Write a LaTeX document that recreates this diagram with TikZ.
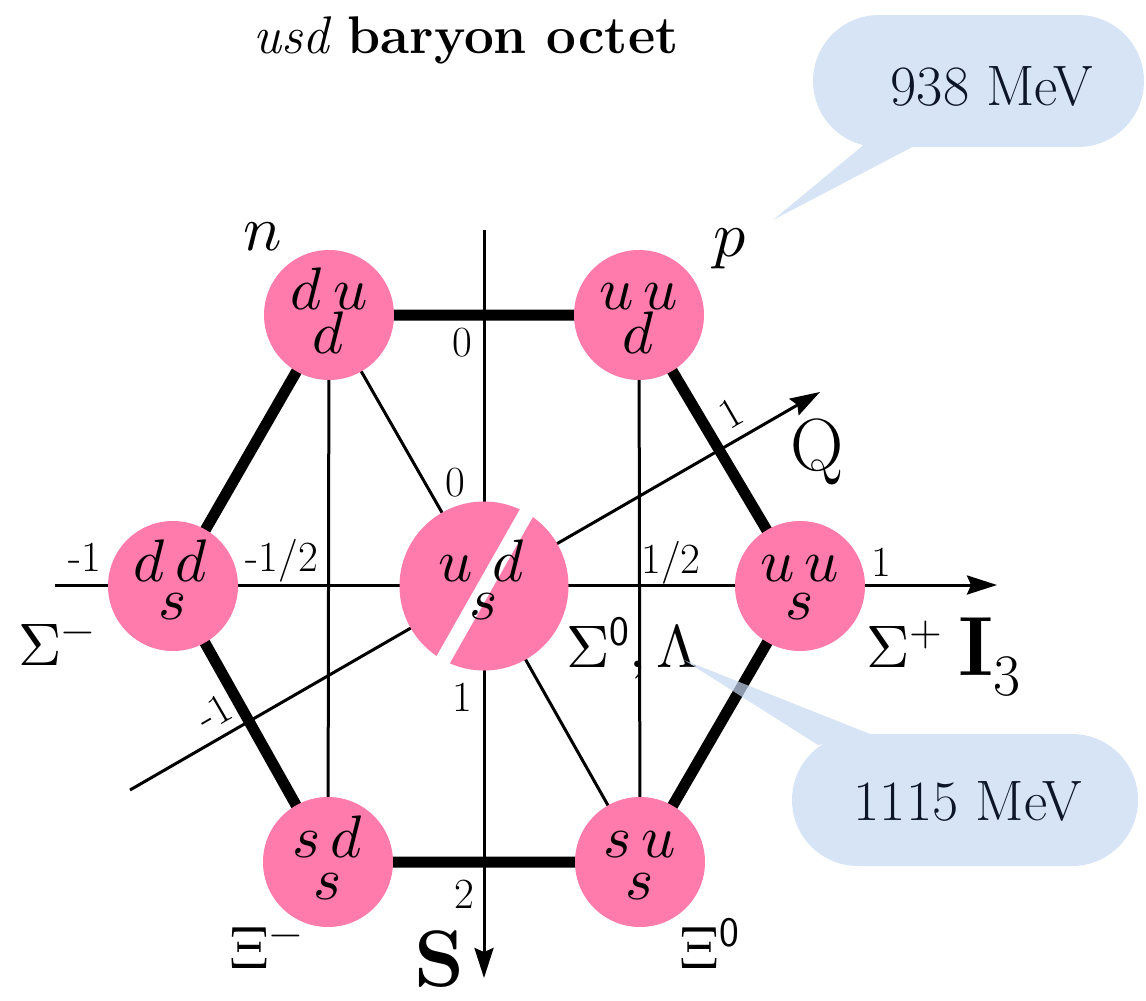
\documentclass[tikz,border=0pt]{standalone}
\usepackage{unicode-math}
\usetikzlibrary{arrows.meta}
\definecolor{pinkball}{RGB}{255,123,172}
\definecolor{calloutblue}{RGB}{198,217,241}
\definecolor{callouttext}{RGB}{12,22,40}
\tikzset{
  ax/.style={line width=3pt, black},
  axarrow/.style={ax, -{Stealth[length=30pt,width=19pt,inset=4pt]}},
  thinline/.style={line width=3pt},
  hexedge/.style={line width=11pt},
  ball/.style={circle, fill=pinkball, inner sep=0pt, minimum size=130pt},
  bigball/.style={ball, minimum size=169pt},
  quark/.style={font=\fontsize{60}{60}\selectfont, inner sep=0pt, anchor=base},
  tick/.style={font=\fontsize{43}{43}\selectfont, inner sep=0pt},
  particle/.style={font=\fontsize{60}{60}\selectfont, inner sep=0pt, anchor=base west},
  mev/.style={font=\fontsize{57}{57}\selectfont, text=callouttext, inner sep=0pt, anchor=base},
  bubble/.style={fill=calloutblue},
}
\begin{document}
\begin{tikzpicture}[x=1pt,y=-1pt]
\useasboundingbox (0,0) rectangle (1146,1001);
% centres
\coordinate (cn)  at (329,315);
\coordinate (cp)  at (639,315);
\coordinate (csm) at (173,586);
\coordinate (cc)  at (484,586);
\coordinate (csp) at (800,586);
\coordinate (cxm) at (328,862);
\coordinate (cx0) at (640,862);
% thin lines
\draw[thinline] (cn) -- (cxm);
\draw[thinline] (cp) -- (cx0);
\draw[thinline] (cn) -- (cc) -- (cx0);
% axes
\coordinate (hL) at (55,585);
\coordinate (hR) at (997,585);
\coordinate (vT) at (484,230);
\coordinate (vB) at (484,978);
\coordinate (qL) at (130,790);
\coordinate (qR) at (820,392);
\draw[axarrow] (hL) -- (hR);
\draw[axarrow] (vT) -- (vB);
\draw[axarrow] (qL) -- (qR);
% hexagon
\draw[hexedge] (cn) -- (cp) -- (csp) -- (cx0) -- (cxm) -- (csm) -- cycle;
% balls
\node[ball] (n) at (cn) {};
\node[ball] (p) at (cp) {};
\node[ball] (sm) at (csm) {};
\node[bigball] (c) at (cc) {};
\node[ball] (sp) at (csp) {};
\node[ball] (xm) at (cxm) {};
\node[ball] (x0) at (cx0) {};
\coordinate (stA) at (531,505);
\coordinate (stB) at (443,660);
\draw[white, line width=15pt, line cap=round] (stA) -- (stB);
% quark contents
\node[quark] (nq1) at (329,309) {$d\,u$};
\node[quark] (nq2) at (329,353) {$d$};
\node[quark] (pq1) at (639,309) {$u\,u$};
\node[quark] (pq2) at (639,353) {$d$};
\node[quark] (smq1) at (171,581) {$d\,d$};
\node[quark] (smq2) at (173,619) {$s$};
\node[quark] (cq1) at (482,581) {$u\,\,d$};
\node[quark] (cq2) at (484,619) {$s$};
\node[quark] (spq1) at (800,581) {$u\,u$};
\node[quark] (spq2) at (800,619) {$s$};
\node[quark] (xmq1) at (328,857) {$s\,d$};
\node[quark] (xmq2) at (328,899) {$s$};
\node[quark] (x0q1) at (640,857) {$s\,u$};
\node[quark] (x0q2) at (640,899) {$s$};
% ticks
\node[tick] (t0a) at (462,343) {0};
\node[tick] (t0b) at (455,483) {0};
\node[tick] (t1)  at (462,697) {1};
\node[tick] (t2)  at (464,894) {2};
\node[tick] (tm1) at (85,557) {-1};
\node[tick] (tmh) at (282,561) {-1/2};
\node[tick] (th)  at (671,563) {1/2};
\node[tick] (tp1) at (881,562) {1};
\node[tick, rotate=30] (q1) at (731,413) {1};
\node[tick, rotate=30] (qm1) at (214,712) {-1};
% particle names
\node[particle] (lsm) at (18,665) {$\Sigma^{-}$};
\node[particle] (ls0) at (566,667) {$\Sigma^{\mathsf{0}}{,}\,\Lambda$};
\node[particle] (lsp) at (866,667) {$\Sigma^{+}$};
\node[particle] (lxm) at (229,968) {$\Xi^{-}$};
\node[particle] (lx0) at (679,968) {$\Xi^{\mathsf{0}}$};
\node[particle, font=\fontsize{64}{64}\selectfont] (ln) at (243,250) {$n$};
\node[particle, font=\fontsize{64}{64}\selectfont] (lp) at (713,256) {$p$};
% axis names
\node[particle, font=\fontsize{84}{84}\selectfont] (lI) at (958,675) {$\mathbf{I}_{\mathrm{3}}$};
\node[particle, font=\fontsize{74}{74}\selectfont] (lQ) at (790,470) {Q};
\node[particle, font=\fontsize{80}{80}\selectfont\bfseries] (lS) at (414,986) {S};
% title
\node[font=\fontsize{53}{53}\selectfont, inner sep=0pt, anchor=base] (title) at (466,53) {\textit{usd} \textbf{baryon octet}};
% callouts
\begin{scope}[transparency group, opacity=0.7]
  \fill[bubble] (773,220) -- (866,143) -- (920,143) -- cycle;
  \fill[bubble, rounded corners=66pt] (813,15) rectangle (1144,147);
  \fill[bubble] (684,660) -- (818,745) -- (875,736) -- cycle;
  \fill[bubble, rounded corners=66pt] (792,734) rectangle (1138,866);
\end{scope}
\node[mev] (m1) at (992,105) {938 MeV};
\node[mev] (m2) at (968,820) {1115 MeV};
\end{tikzpicture}
\end{document}
